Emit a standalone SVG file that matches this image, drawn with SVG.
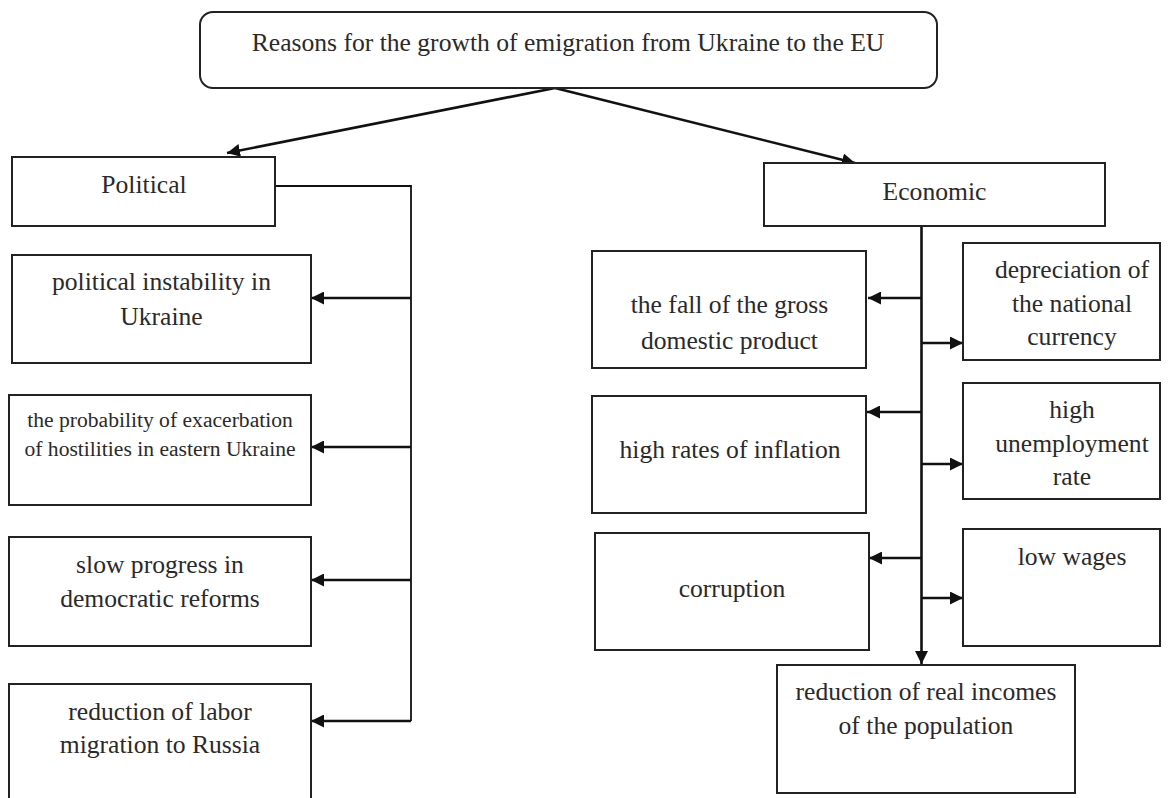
<svg xmlns="http://www.w3.org/2000/svg" width="1172" height="798" viewBox="0 0 1172 798">
<defs>
<style>
.box{fill:#fff;stroke:#222;stroke-width:2}
.t{font-family:'Liberation Serif','Tinos','Times New Roman','DejaVu Serif',serif;font-size:25.6px;fill:#2a2a2a;text-anchor:middle}
.ts{font-size:21.6px}
.c{fill:none;stroke:#111;stroke-width:2.6}
.thin{fill:none;stroke:#111;stroke-width:1.8}
</style>
<marker id="ah" viewBox="0 0 13 13" refX="13" refY="6.5" markerWidth="13" markerHeight="13" markerUnits="userSpaceOnUse" orient="auto">
<path d="M0,0 L13,6.5 L0,13 Z" fill="#111"/>
</marker>
</defs>
<rect width="1172" height="798" fill="#fff"/>
<g id="connectors">
<line class="c" x1="555" y1="88" x2="227" y2="153" marker-end="url(#ah)"/>
<line class="c" x1="555" y1="88" x2="855" y2="163" marker-end="url(#ah)"/>
<polyline class="thin" points="275,186 411,186 411,721"/>
<line class="c" x1="411" y1="298" x2="311" y2="298" marker-end="url(#ah)"/>
<line class="c" x1="411" y1="447" x2="311" y2="447" marker-end="url(#ah)"/>
<line class="c" x1="411" y1="580" x2="311" y2="580" marker-end="url(#ah)"/>
<line class="c" x1="411" y1="721" x2="311" y2="721" marker-end="url(#ah)"/>
<line class="c" x1="921.5" y1="226" x2="921.5" y2="664" marker-end="url(#ah)"/>
<line class="c" x1="921.5" y1="298" x2="868" y2="298" marker-end="url(#ah)"/>
<line class="c" x1="921.5" y1="412" x2="867" y2="412" marker-end="url(#ah)"/>
<line class="c" x1="921.5" y1="558" x2="869" y2="558" marker-end="url(#ah)"/>
<line class="c" x1="921.5" y1="343" x2="963" y2="343" marker-end="url(#ah)"/>
<line class="c" x1="921.5" y1="464" x2="963" y2="464" marker-end="url(#ah)"/>
<line class="c" x1="921.5" y1="598" x2="963" y2="598" marker-end="url(#ah)"/>
</g>
<g font-family="Liberation Serif, Tinos, Times New Roman, DejaVu Serif, serif">
<g id="root">
<rect class="box" x="200" y="12" width="737" height="76" rx="13"/>
<text class="t" x="568" y="51">Reasons for the growth of emigration from Ukraine to the EU</text>
</g>
<g id="political">
<rect class="box" x="12" y="157" width="263" height="69"/>
<text class="t" x="144" y="193">Political</text>
</g>
<g id="p1">
<rect class="box" x="12" y="255" width="299" height="108"/>
<text class="t" x="161.5" y="290">political instability in</text>
<text class="t" x="161.5" y="325">Ukraine</text>
</g>
<g id="p2">
<rect class="box" x="9" y="395" width="302" height="110"/>
<text class="t ts" x="160" y="427">the probability of exacerbation</text>
<text class="t ts" x="160" y="456">of hostilities in eastern Ukraine</text>
</g>
<g id="p3">
<rect class="box" x="9" y="537" width="302" height="109"/>
<text class="t" x="160" y="573">slow progress in</text>
<text class="t" x="160" y="607">democratic reforms</text>
</g>
<g id="p4">
<rect class="box" x="9" y="684" width="302" height="125"/>
<text class="t" x="160" y="720">reduction of labor</text>
<text class="t" x="160" y="753">migration to Russia</text>
</g>
<g id="economic">
<rect class="box" x="764" y="163" width="341" height="63"/>
<text class="t" x="934.5" y="200">Economic</text>
</g>
<g id="e1">
<rect class="box" x="592" y="251" width="274" height="117"/>
<text class="t" x="729.5" y="313">the fall of the gross</text>
<text class="t" x="729.5" y="349">domestic product</text>
</g>
<g id="e2">
<rect class="box" x="963" y="243" width="197" height="117"/>
<text class="t" x="1072" y="278">depreciation of</text>
<text class="t" x="1072" y="312">the national</text>
<text class="t" x="1072" y="345">currency</text>
</g>
<g id="e3">
<rect class="box" x="592" y="396" width="274" height="117"/>
<text class="t" x="730" y="458">high rates of inflation</text>
</g>
<g id="e4">
<rect class="box" x="963" y="383" width="197" height="116"/>
<text class="t" x="1072" y="418">high</text>
<text class="t" x="1072" y="452">unemployment</text>
<text class="t" x="1072" y="485">rate</text>
</g>
<g id="e5">
<rect class="box" x="595" y="533" width="274" height="117"/>
<text class="t" x="732" y="597">corruption</text>
</g>
<g id="e6">
<rect class="box" x="963" y="529" width="197" height="117"/>
<text class="t" x="1072" y="565">low wages</text>
</g>
<g id="e7">
<rect class="box" x="777" y="665" width="298" height="128"/>
<text class="t" x="926" y="700">reduction of real incomes</text>
<text class="t" x="926" y="734">of the population</text>
</g>
</g>
</svg>
